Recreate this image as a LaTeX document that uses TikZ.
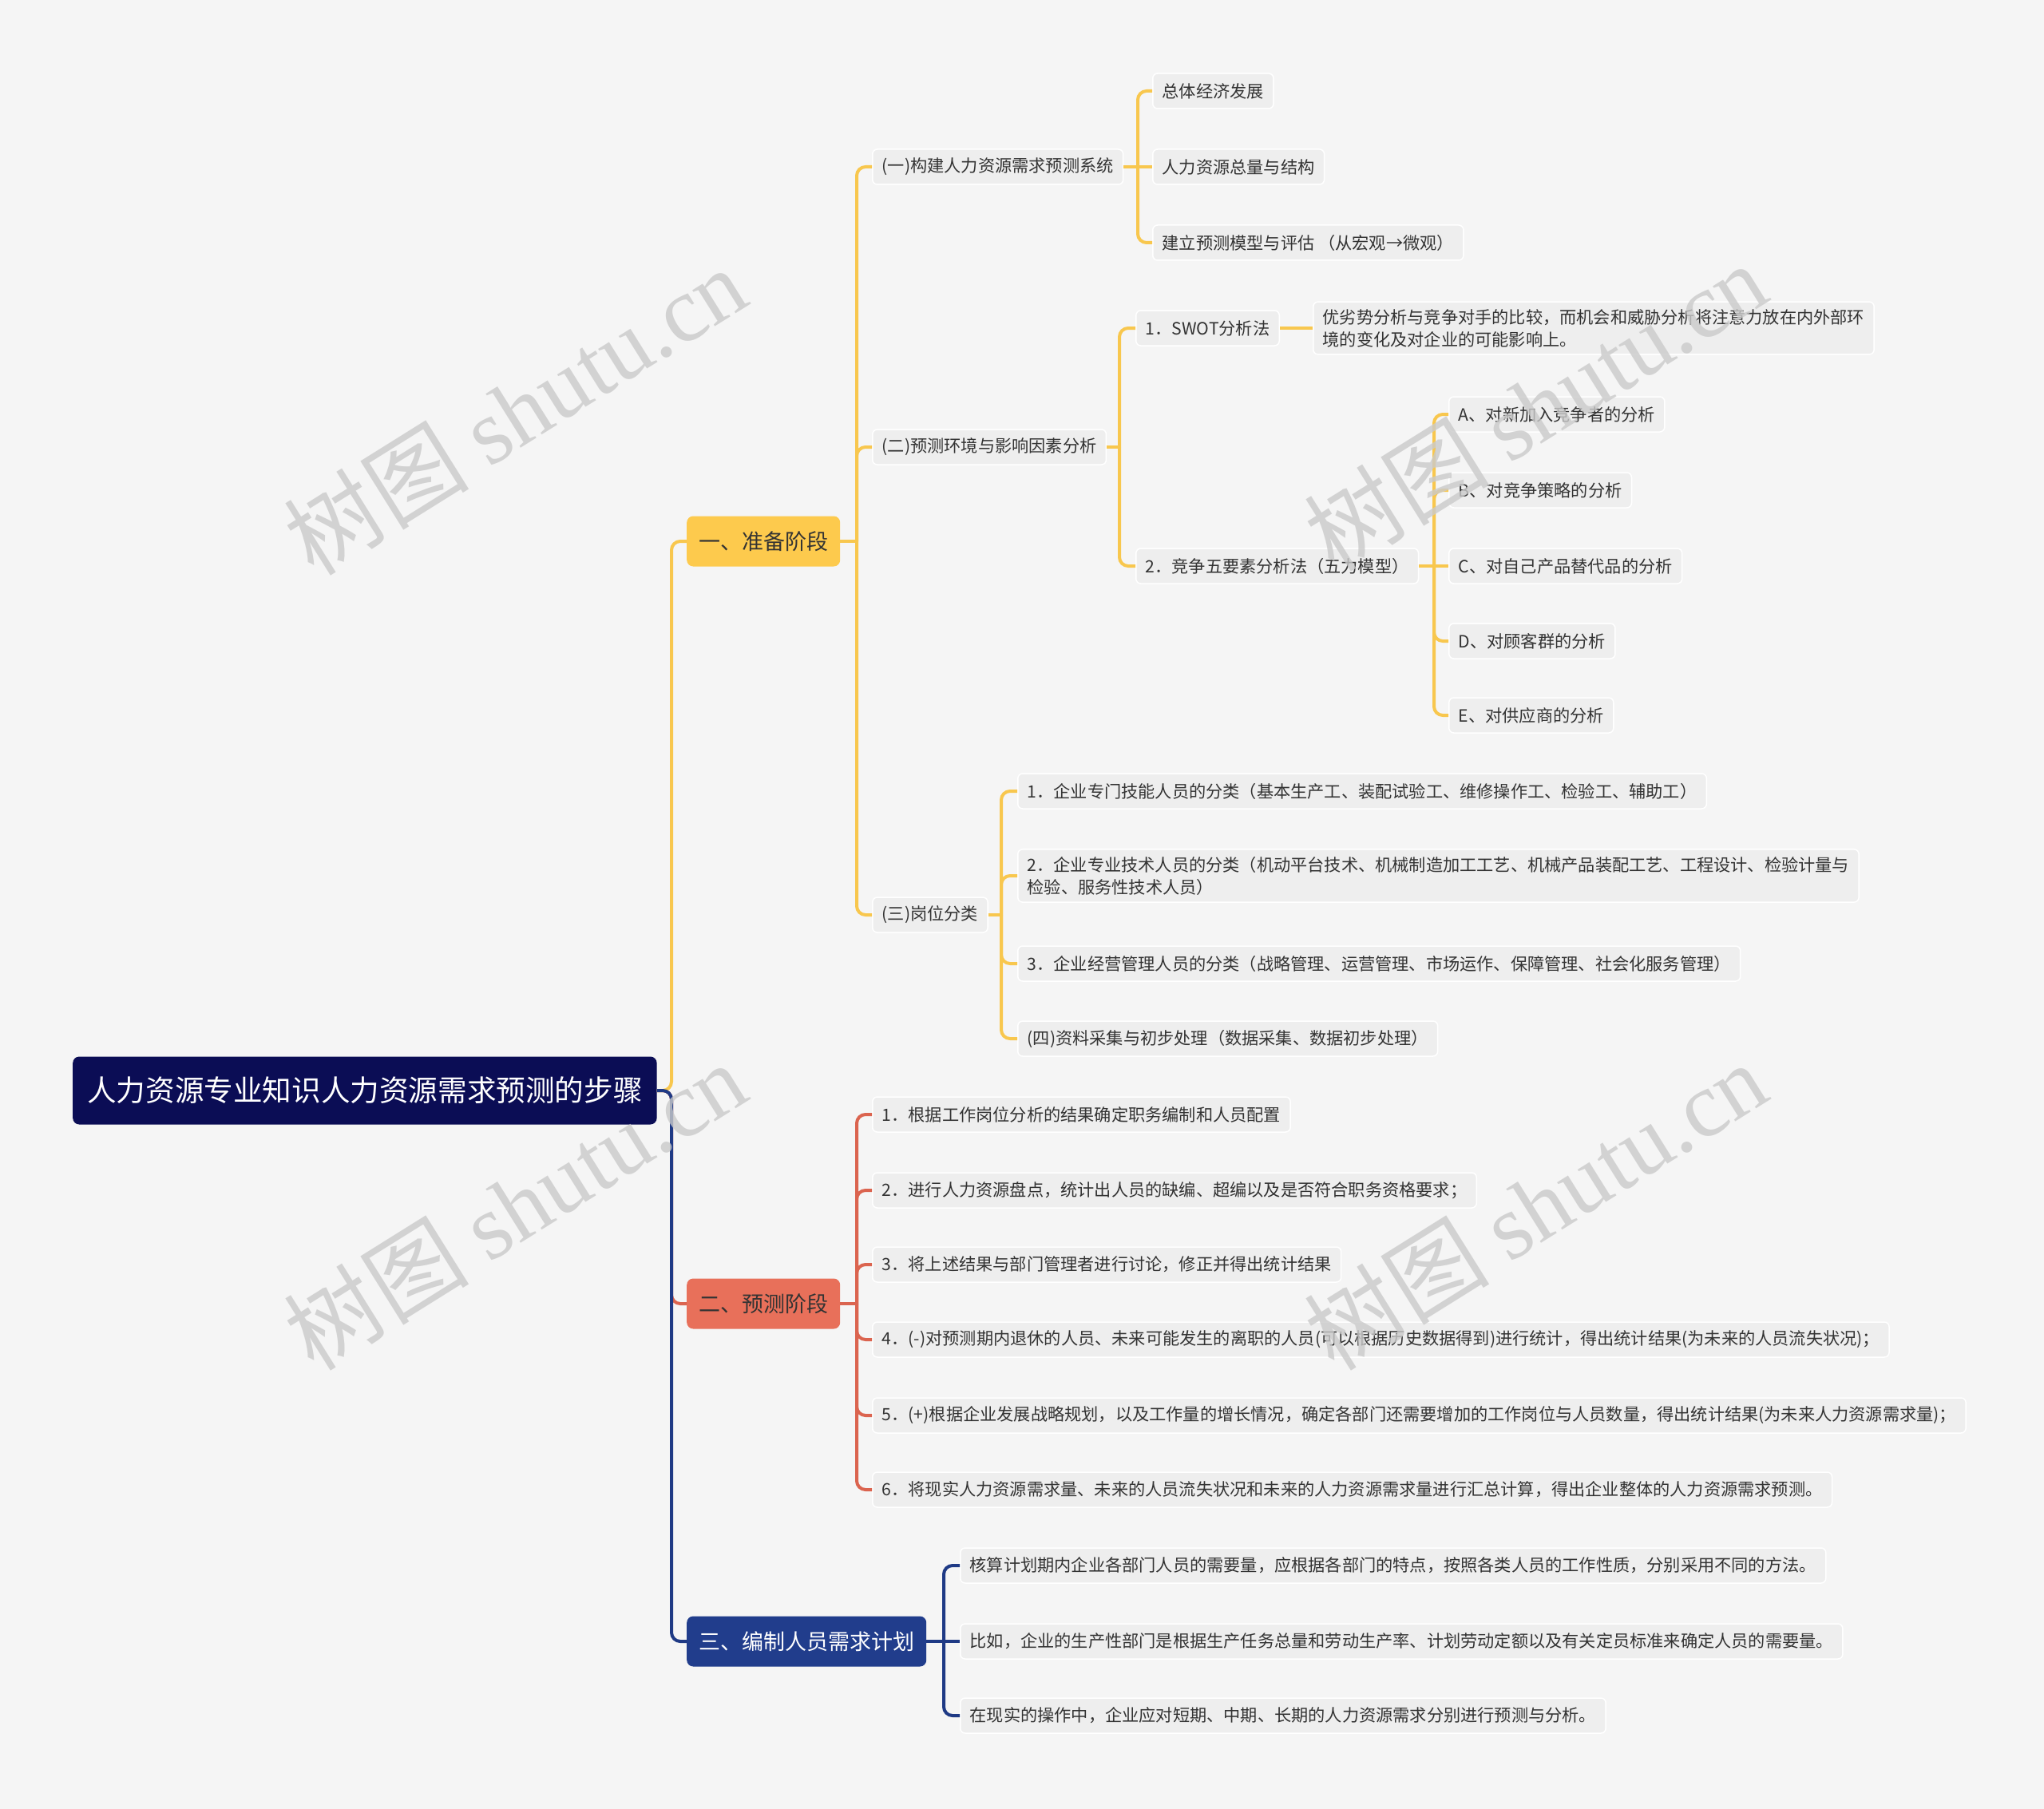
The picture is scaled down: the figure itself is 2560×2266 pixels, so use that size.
\documentclass[tikz,border=0pt]{standalone}
\usepackage{fontspec}
\setmainfont{Noto Sans CJK SC}
\newfontfamily\wmserif{Liberation Serif}
\definecolor{bgc}{HTML}{F5F5F5}
\definecolor{leafbg}{HTML}{EEEEEE}
\definecolor{txt}{HTML}{333333}
\definecolor{rootc}{HTML}{0B0D55}
\definecolor{yc}{HTML}{FDCA4D}
\definecolor{ylc}{HTML}{F8C74E}
\definecolor{rc}{HTML}{E8705A}
\definecolor{rlc}{HTML}{DB644F}
\definecolor{nc}{HTML}{213D8C}
\definecolor{nlc}{HTML}{1F3A85}
\definecolor{wmc}{HTML}{CACACA}
\begin{document}
\begin{tikzpicture}[x=1pt,y=-1pt,
  leaf/.style={draw=white, line width=1.5pt, fill=leafbg, rounded corners=6pt,
    font=\fontsize{21.2pt}{28pt}\selectfont, text=txt, inner xsep=12pt, inner ysep=0pt,
    minimum height=44pt, anchor=west, align=left},
  leaftwo/.style={leaf, inner ysep=9pt},
  lone/.style={rounded corners=8pt, font=\fontsize{27pt}{32pt}\selectfont, text=txt,
    inner xsep=15pt, inner ysep=0pt, minimum height=63pt, anchor=west},
  rootn/.style={rounded corners=8pt, fill=rootc, text=white, font=\fontsize{36.6pt}{40pt}\selectfont,
    inner xsep=18pt, inner ysep=0pt, minimum height=85pt, anchor=west},
  yl/.style={draw=ylc, line width=4pt, rounded corners=11pt},
  rl/.style={draw=rlc, line width=4pt, rounded corners=11pt},
  nl/.style={draw=nlc, line width=4pt, rounded corners=11pt},
  wm/.style={text=wmc, opacity=0.8, font=\fontsize{116pt}{120pt}\selectfont, rotate=32, inner sep=0pt}
]
\useasboundingbox (0,0) rectangle (2560,2266);
\fill[bgc] (0,0) rectangle (2560,2266);

% root and level 1
\node[rootn] (root) at (91,1366) {人力资源专业知识人力资源需求预测的步骤};
\node[lone, fill=yc] (a) at (860,678) {一、准备阶段};
\node[lone, fill=rc] (b) at (860,1633) {二、预测阶段};
\node[lone, fill=nc, text=white] (c) at (860,2056) {三、编制人员需求计划};

% level 2 under a
\node[leaf] (a1) at (1092,209) {(一)构建人力资源需求预测系统};
\node[leaf] (a2) at (1092,560) {(二)预测环境与影响因素分析};
\node[leaf] (a3) at (1092,1146) {(三)岗位分类};

% under a1
\node[leaf] (a11) at (1443,114) {总体经济发展};
\node[leaf] (a12) at (1443,209) {人力资源总量与结构};
\node[leaf] (a13) at (1443,304) {建立预测模型与评估 （从宏观→微观）};

% under a2
\node[leaf] (a21) at (1422,411) {1．SWOT分析法};
\node[leaftwo] (a21d) at (1644,411) {优劣势分析与竞争对手的比较，而机会和威胁分析将注意力放在内外部环\\境的变化及对企业的可能影响上。};
\node[leaf] (a22) at (1422,709) {2．竞争五要素分析法（五力模型）};
\node[leaf] (fa) at (1814,519) {A、对新加入竞争者的分析};
\node[leaf] (fb) at (1814,614) {B、对竞争策略的分析};
\node[leaf] (fc) at (1814,709) {C、对自己产品替代品的分析};
\node[leaf] (fd) at (1814,803) {D、对顾客群的分析};
\node[leaf] (fe) at (1814,896) {E、对供应商的分析};

% under a3
\node[leaf] (a31) at (1274,991) {1．企业专门技能人员的分类（基本生产工、装配试验工、维修操作工、检验工、辅助工）};
\node[leaftwo] (a32) at (1274,1097) {2．企业专业技术人员的分类（机动平台技术、机械制造加工工艺、机械产品装配工艺、工程设计、检验计量与\\检验、服务性技术人员）};
\node[leaf] (a33) at (1274,1207) {3．企业经营管理人员的分类（战略管理、运营管理、市场运作、保障管理、社会化服务管理）};
\node[leaf] (a34) at (1274,1301) {(四)资料采集与初步处理（数据采集、数据初步处理）};

% under b
\node[leaf] (b1) at (1092,1396) {1．根据工作岗位分析的结果确定职务编制和人员配置};
\node[leaf] (b2) at (1092,1491) {2．进行人力资源盘点，统计出人员的缺编、超编以及是否符合职务资格要求；};
\node[leaf] (b3) at (1092,1584) {3．将上述结果与部门管理者进行讨论，修正并得出统计结果};
\node[leaf] (b4) at (1092,1678) {4．(-)对预测期内退休的人员、未来可能发生的离职的人员(可以根据历史数据得到)进行统计，得出统计结果(为未来的人员流失状况)；};
\node[leaf] (b5) at (1092,1773) {5．(+)根据企业发展战略规划，以及工作量的增长情况，确定各部门还需要增加的工作岗位与人员数量，得出统计结果(为未来人力资源需求量)；};
\node[leaf] (b6) at (1092,1866) {6．将现实人力资源需求量、未来的人员流失状况和未来的人力资源需求量进行汇总计算，得出企业整体的人力资源需求预测。};

% under c
\node[leaf] (c1) at (1202,1961) {核算计划期内企业各部门人员的需要量，应根据各部门的特点，按照各类人员的工作性质，分别采用不同的方法。};
\node[leaf] (c2) at (1202,2056) {比如，企业的生产性部门是根据生产任务总量和劳动生产率、计划劳动定额以及有关定员标准来确定人员的需要量。};
\node[leaf] (c3) at (1202,2149) {在现实的操作中，企业应对短期、中期、长期的人力资源需求分别进行预测与分析。};

% coordinates for junctions
\coordinate (jr) at (841,1366);
\coordinate (ja) at (1073,678);
\coordinate (ja1) at (1425,209);
\coordinate (ja2) at (1402,560);
\coordinate (ja22) at (1796,709);
\coordinate (ja3) at (1254,1146);
\coordinate (jb) at (1073,1633);
\coordinate (jc) at (1182,2056);

% root connectors
\draw[rl] (root.east) -- (jr) |- (b.west);
\draw[yl] (root.east) -- (jr) |- (a.west);
\draw[nl] (root.east) -- (jr) |- (c.west);

% yellow branch
\draw[yl] (a.east) -- (ja);
\foreach \n in {a1,a2,a3} \draw[yl] (ja) |- (\n.west);
\draw[yl] (a1.east) -- (ja1);
\draw[yl] (ja1) |- (a11.west);
\draw[yl] (ja1) -- (a12.west);
\draw[yl] (ja1) |- (a13.west);
\draw[yl] (a2.east) -- (ja2);
\draw[yl] (ja2) |- (a21.west);
\draw[yl] (ja2) |- (a22.west);
\draw[yl] (a21.east) -- (a21d.west);
\draw[yl] (a22.east) -- (ja22);
\foreach \n in {fa,fb,fd,fe} \draw[yl] (ja22) |- (\n.west);
\draw[yl] (ja22) -- (fc.west);
\draw[yl] (a3.east) -- (ja3);
\foreach \n in {a31,a32,a33,a34} \draw[yl] (ja3) |- (\n.west);

% red branch
\draw[rl] (b.east) -- (jb);
\foreach \n in {b1,b2,b3,b4,b5,b6} \draw[rl] (jb) |- (\n.west);

% navy branch
\draw[nl] (c.east) -- (jc);
\draw[nl] (jc) |- (c1.west);
\draw[nl] (jc) -- (c2.west);
\draw[nl] (jc) |- (c3.west);

% watermarks
\node[wm] (w1) at (645,514) {树图 {\wmserif shutu.cn}};
\node[wm] (w2) at (1923,509) {树图 {\wmserif shutu.cn}};
\node[wm] (w3) at (645,1510) {树图 {\wmserif shutu.cn}};
\node[wm] (w4) at (1923,1510) {树图 {\wmserif shutu.cn}};
\end{tikzpicture}
\end{document}
